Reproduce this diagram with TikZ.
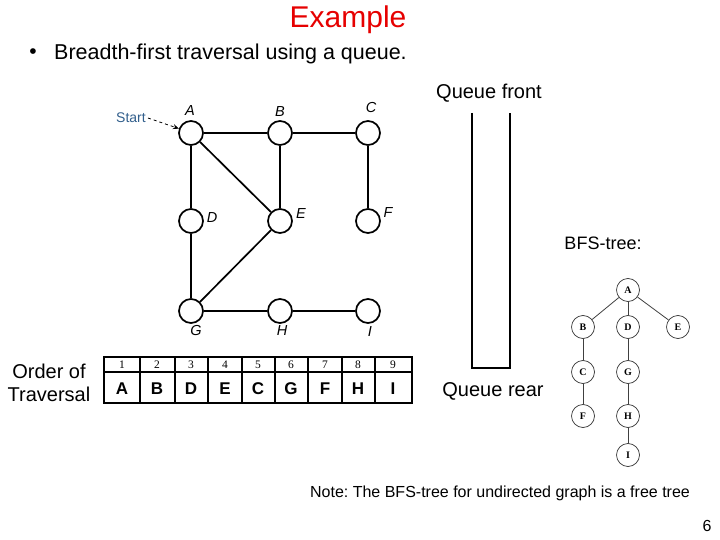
\documentclass[tikz,border=0pt]{standalone}
\usepackage{fontspec}
\setmainfont{Liberation Sans}
\newfontfamily\serifx{Liberation Serif}
\usetikzlibrary{arrows.meta}
\frenchspacing
\definecolor{titlered}{RGB}{230,0,0}
\definecolor{startblue}{RGB}{50,95,140}
\tikzset{
  gnode/.style={circle, draw, line width=1.7pt, minimum size=24pt, inner sep=0pt, fill=white},
  glabel/.style={inner sep=0pt, font=\fontsize{14.5}{16}\selectfont\itshape},
  gedge/.style={line width=1.7pt},
  tnode/.style={circle, draw=black!80, line width=0.7pt, minimum size=23pt, inner sep=0pt, font=\serifx\bfseries\fontsize{10}{11}\selectfont},
  tedge/.style={line width=0.8pt, draw=black!75},
  numcell/.style={inner sep=0pt, font=\serifx\fontsize{11.5}{12}\selectfont},
  letcell/.style={inner sep=0pt, font=\bfseries\fontsize{17}{19}\selectfont},
  txt/.style={inner sep=0pt, font=\fontsize{20}{24}\selectfont},
  qwall/.style={line width=2.6pt}
}
\begin{document}
\begin{tikzpicture}[x=1pt,y=-1pt]
\useasboundingbox (0,0) rectangle (720,540);
% title and bullet
\node[txt, text=titlered, font=\fontsize{30}{33}\selectfont] (title) at (348,20) {Example};
\node[txt, font=\fontsize{21}{24}\selectfont] (bullet) at (33,54) {•};
\node[txt, anchor=west, font=\fontsize{21.5}{25}\selectfont] (btext) at (54,54) {Breadth-first traversal using a queue.};
% graph
\node[gnode] (A) at (191,133) {};
\node[gnode] (B) at (280,133) {};
\node[gnode] (C) at (368,133) {};
\node[gnode] (D) at (191,221) {};
\node[gnode] (E) at (280,221) {};
\node[gnode] (F) at (368,221) {};
\node[gnode] (G) at (191,311) {};
\node[gnode] (H) at (280,311) {};
\node[gnode] (I) at (368,311) {};
\node[glabel] (lA) at (190,111) {A};
\node[glabel] (lB) at (280,112) {B};
\node[glabel] (lC) at (371,108) {C};
\node[glabel] (lD) at (212,218) {D};
\node[glabel] (lE) at (301,214) {E};
\node[glabel] (lF) at (388,213) {F};
\node[glabel] (lG) at (196,331) {G};
\node[glabel] (lH) at (282,331) {H};
\node[glabel] (lI) at (370,332) {I};
\draw[gedge] (A) -- (B);
\draw[gedge] (B) -- (C);
\draw[gedge] (A) -- (D);
\draw[gedge] (A) -- (E);
\draw[gedge] (B) -- (E);
\draw[gedge] (C) -- (F);
\draw[gedge] (D) -- (G);
\draw[gedge] (E) -- (G);
\draw[gedge] (G) -- (H);
\draw[gedge] (H) -- (I);
\node[inner sep=0pt, text=startblue, font=\fontsize{14}{16}\selectfont] (start) at (131,118) {Start};
\draw[dashed, line width=0.8pt, -{Stealth[length=6pt,width=5pt]}] (start.east) ++(2,0) coordinate (s0) (s0) -- (A.160);
% order of traversal
\node[txt, align=center, font=\fontsize{20}{23}\selectfont] (order) at (49,383) {Order of\\Traversal};
\draw[line width=1.4pt] (104,357) rectangle (412,403);
\draw[line width=1.4pt] (104,372) -- (412,372);
\foreach \i [count=\k] in {140,175,208,242,275,308,342,375} {
  \draw[line width=1.4pt] (\i,357) -- (\i,403);
}
\foreach \n/\x in {1/122,2/157,3/191,4/225,5/258,6/291,7/325,8/358,9/393} {
  \node[numcell] (n\n) at (\x,365) {\n};
}
\foreach \n/\x/\L in {1/122/A,2/157/B,3/191/D,4/225/E,5/258/C,6/291/G,7/325/F,8/358/H,9/393/I} {
  \node[letcell] (c\n) at (\x,389) {\L};
}
% queue
\node[txt] (qfront) at (489,93) {Queue front};
\coordinate (q1) at (472,113);
\coordinate (q2) at (472,368);
\coordinate (q3) at (510,368);
\coordinate (q4) at (510,113);
\draw[qwall] (q1) -- (q2) -- (q3) -- (q4);
\node[txt] (qrear) at (493,391) {Queue rear};
% BFS tree
\node[txt, font=\fontsize{18}{22}\selectfont] (bfs) at (603,243) {BFS-tree:};
\node[tnode] (tA) at (628,290) {A};
\node[tnode] (tB) at (583,327) {B};
\node[tnode] (tD) at (628,327) {D};
\node[tnode] (tE) at (678,327) {E};
\node[tnode] (tC) at (583,372) {C};
\node[tnode] (tG) at (628,372) {G};
\node[tnode] (tF) at (583,416) {F};
\node[tnode] (tH) at (628,416) {H};
\node[tnode] (tI) at (628,455) {I};
\draw[tedge] (tA) -- (tB);
\draw[tedge] (tA) -- (tD);
\draw[tedge] (tA) -- (tE);
\draw[tedge] (tB) -- (tC);
\draw[tedge] (tC) -- (tF);
\draw[tedge] (tD) -- (tG);
\draw[tedge] (tG) -- (tH);
\draw[tedge] (tH) -- (tI);
% note and page number
\node[inner sep=0pt, font=\fontsize{16}{18}\selectfont] (note) at (500,493) {Note: The BFS-tree for undirected graph is a free tree};
\node[inner sep=0pt, font=\fontsize{16}{18}\selectfont] (page) at (707,526) {6};
\end{tikzpicture}
\end{document}
